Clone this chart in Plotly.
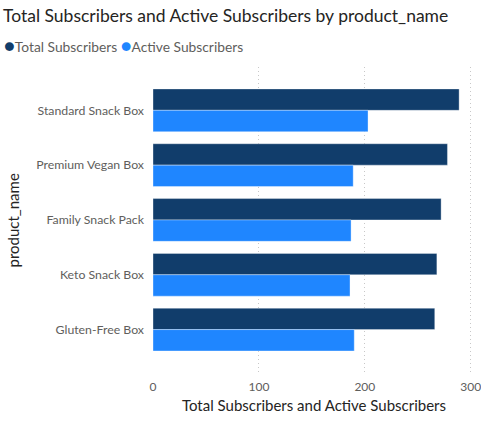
import plotly.graph_objects as go

products = ["Standard Snack Box", "Premium Vegan Box", "Family Snack Pack", "Keto Snack Box", "Gluten-Free Box"]
total_subscribers = [289, 278, 272, 268, 266]
active_subscribers = [203, 189, 187, 186, 190]
series_names = ["Total Subscribers", "Active Subscribers"]
colors = ["#113D6B", "#1F86FF"]
x_ticks = [0, 100, 200, 300]

FONT = "Segoe UI, Lato, sans-serif"
TITLE_FONT = "DIN, Segoe UI Semibold, Lato, sans-serif"

fig = go.Figure()
for name, vals, col in zip(series_names, [total_subscribers, active_subscribers], colors):
    fig.add_trace(go.Bar(
        y=products, x=vals, name=name, orientation="h",
        marker=dict(color=col, line=dict(color="rgba(255,255,255,0.35)", width=1)),
        showlegend=False,
    ))

legend_html = "&nbsp;".join(
    f"<span style='color:{c};font-size:18px'>●</span><span style='color:#605E5C'>{n}</span>"
    for n, c in zip(series_names, colors)
)

W, H = 481, 426
l, r, t, b = 153, 6, 67, 52
pw, ph = W - l - r, H - t - b

fig.update_layout(
    width=W, height=H,
    margin=dict(l=l, r=r, t=t, b=b, autoexpand=False),
    paper_bgcolor="white", plot_bgcolor="white",
    barmode="group", bargap=0.22, bargroupgap=0,
    title=dict(text="Total Subscribers and Active Subscribers by product_name",
               x=3 / W, xref="container", xanchor="left",
               y=1 - 16 / H, yref="container", yanchor="middle",
               font=dict(family=TITLE_FONT, size=17.5, color="#252423")),
    font=dict(family=FONT, color="#605E5C"),
    xaxis=dict(range=[0, 304], tickvals=x_ticks, showgrid=True, gridcolor="#C8C8C8",
               griddash="1px,3px", gridwidth=1, zeroline=False, showline=False,
               ticklabeloverflow="allow", automargin=False, ticklabelstandoff=4,
               tickfont=dict(size=12, color="#605E5C"),
               title=dict(text="Total Subscribers and Active Subscribers",
                          font=dict(size=15, color="#252423"), standoff=7)),
    yaxis=dict(range=[4.81, -0.79], showgrid=False, zeroline=False, showline=False,
               automargin=False,
               tickfont=dict(size=12.3, color="#605E5C"), ticklabelstandoff=8),
    annotations=[
        dict(text=legend_html, x=(2 - l) / pw, y=(H - b - 45) / ph,
             xref="paper", yref="paper", showarrow=False,
             font=dict(size=13.8, family=FONT), xanchor="left", yanchor="middle"),
        dict(text="product_name", textangle=-90, x=(12 - l) / pw, y=(H - b - 220.5) / ph,
             xref="paper", yref="paper", showarrow=False,
             font=dict(size=15, color="#252423", family=FONT),
             xanchor="center", yanchor="middle"),
    ],
)

fig.write_html("out.html")
